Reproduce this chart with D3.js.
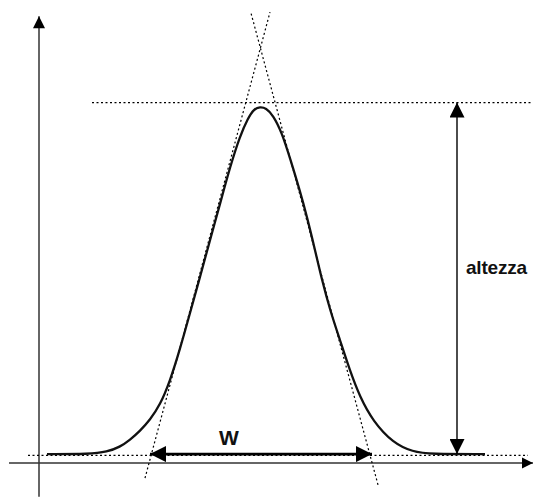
<!DOCTYPE html>
<html>
<head>
<meta charset="utf-8">
<script src="https://cdn.jsdelivr.net/npm/d3@7"></script>
<style>
  body { margin: 0; background: #fff; }
  text { font-family: "Liberation Sans", Arial, sans-serif; font-weight: bold; fill: #111; }
</style>
</head>
<body>
<script>
// peak profile (x = time, y = signal)
var curveX = [1.6, 10.2, 13.6, 16.2, 18.2, 20.2, 22.2, 24.2, 26.2, 28.2, 30.2, 32.2, 34.2, 36.2, 38.2, 40.2, 41.8, 43.0, 44.2,
              45.4, 46.8, 48.6, 50.2, 52.2, 53.6, 55.2, 56.6, 58.2, 60.2, 62.2, 64.2, 66.8, 70.8, 74.8, 78.2, 89.2];
var curveY = [2.0, 2.0, 2.5, 3.6, 5.2, 7.2, 9.7, 13.0, 18.4, 25.6, 33.7, 41.8, 50.1, 58.2, 66.5, 73.5, 77.5, 79.6, 80.0,
              79.8, 78.2, 74.2, 68.5, 61.1, 55.3, 47.9, 41.1, 34.4, 27.6, 20.7, 14.8, 9.4, 4.5, 2.5, 2.0, 2.0];

// reference levels
var baseLevel = 2;
var peakLevel = 81;
var baseLineX = [-2.2, 97.8];
var peakLineX = [10.6, 98.8];

// tangents at the inflection points
var tangentLeftX = [21.2, 46.2], tangentLeftY = [-3.4, 101.3];
var tangentRightX = [67.8, 42.4], tangentRightY = [-4.9, 101.1];

// measures
var heightX = 83.6;
var widthX = [22.2, 66.6];

// axes extent
var axisXRange = [-6, 98.8];
var axisYRange = [-7.6, 100.4];

var labels = ["altezza", "W"];

(function() {
	"use strict";

var x = d3.scaleLinear().domain([0, 100]).range([39, 539]);
var y = d3.scaleLinear().domain([0, 100]).range([463, 18]);

var svg = d3.select("body")
            .append("svg")
            .attr("width", 533)
            .attr("height", 497);

// arrow heads
var defs = svg.append("defs");
function marker(id, len, wid) {
  defs.append("marker")
      .attr("id", id)
      .attr("viewBox", "0 0 10 10")
      .attr("refX", 10)
      .attr("refY", 5)
      .attr("markerUnits", "userSpaceOnUse")
      .attr("markerWidth", len)
      .attr("markerHeight", wid)
      .attr("orient", "auto-start-reverse")
      .append("path")
      .attr("d", "M0,0L10,5L0,10Z")
      .attr("fill", "#000");
}
marker("axisY", 21, 12);
marker("axisX", 11, 13);
marker("hgt", 25, 15);
marker("wid", 21, 16);

var line = d3.line().x(function(d) { return x(d[0]); }).y(function(d) { return y(d[1]); });

function dotted(xs, ys) {
  svg.append("path")
     .attr("d", line([[xs[0], ys[0]], [xs[1], ys[1]]]))
     .attr("fill", "none")
     .attr("stroke", "#000")
     .attr("stroke-width", 1.2)
     .attr("stroke-dasharray", "2,2.5");
}

// axes
svg.append("path")
   .attr("d", line([[0, axisYRange[0]], [0, axisYRange[1]]]))
   .attr("stroke", "#333").attr("stroke-width", 1.5)
   .attr("marker-end", "url(#axisY)");
svg.append("path")
   .attr("d", line([[axisXRange[0], 0], [axisXRange[1], 0]]))
   .attr("stroke", "#333").attr("stroke-width", 1.5)
   .attr("marker-end", "url(#axisX)");

// dotted guides
dotted(baseLineX, [baseLevel - 0.3, baseLevel - 0.3]);
dotted(peakLineX, [peakLevel, peakLevel]);
dotted(tangentLeftX, tangentLeftY);
dotted(tangentRightX, tangentRightY);

// the peak
var smooth = d3.line()
               .x(function(d) { return x(d[0]); })
               .y(function(d) { return y(d[1]); })
               .curve(d3.curveBasis);
svg.append("path")
   .datum(d3.zip(curveX, curveY))
   .attr("d", smooth)
   .attr("fill", "none")
   .attr("stroke", "#111")
   .attr("stroke-width", 2.3);

// height arrow
svg.append("path")
   .attr("d", line([[heightX, peakLevel], [heightX, baseLevel]]))
   .attr("stroke", "#000").attr("stroke-width", 1.4)
   .attr("marker-start", "url(#hgt)")
   .attr("marker-end", "url(#hgt)");

// width arrow
svg.append("path")
   .attr("d", line([[widthX[0], baseLevel], [widthX[1], baseLevel]]))
   .attr("stroke", "#000").attr("stroke-width", 2.6)
   .attr("marker-start", "url(#wid)")
   .attr("marker-end", "url(#wid)");

// labels
svg.append("text")
   .attr("x", x(heightX) + 9)
   .attr("y", 274)
   .style("font-size", "19px")
   .style("letter-spacing", "-0.2px")
   .text(labels[0]);

svg.append("text")
   .attr("x", x(d3.mean(widthX)) - 32)
   .attr("y", 445)
   .attr("text-anchor", "middle")
   .style("font-size", "21px")
   .text(labels[1]);

})();
</script>
</body>
</html>
